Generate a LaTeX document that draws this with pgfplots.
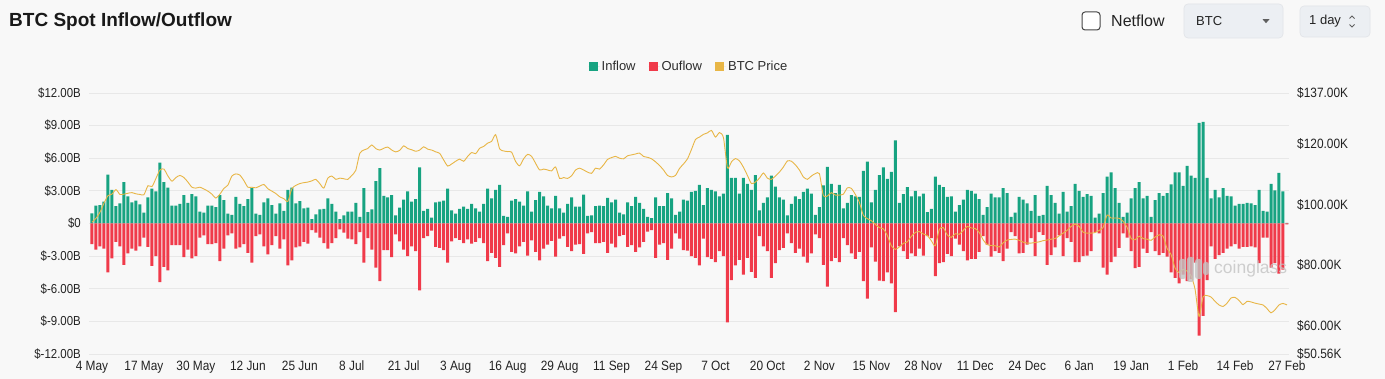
\documentclass[border=0pt]{standalone}
\usepackage{pgfplots}
\pgfplotsset{compat=1.18}
\usepackage{pgfplotstable}
\usepackage{fontspec}
\setmainfont{Liberation Sans}
\newfontfamily\tickfont[FakeStretch=0.88]{Liberation Sans}

\definecolor{bg}{RGB}{248,248,248}
\definecolor{ingreen}{RGB}{23,163,129}
\definecolor{outred}{RGB}{240,58,74}
\definecolor{btcgold}{RGB}{232,182,70}
\definecolor{gridc}{RGB}{232,232,232}
\definecolor{ticktext}{RGB}{35,35,35}
\definecolor{ctrlbg}{RGB}{236,239,243}
\definecolor{ctrlborder}{RGB}{225,228,232}
\definecolor{wm}{RGB}{195,195,195}
\definecolor{titlec}{RGB}{25,25,25}
\definecolor{boxc}{RGB}{70,70,70}
\definecolor{darktext}{RGB}{35,35,35}
\definecolor{arrowc}{RGB}{95,95,95}
\definecolor{legtext}{RGB}{45,45,45}

\pgfplotstableread{
d in out
0 0.92 -1.90
1 1.65 -2.40
2 1.70 -2.10
3 2.00 -2.30
4 4.50 -4.50
5 3.10 -3.20
6 1.60 -1.70
7 1.85 -2.10
8 3.80 -3.80
9 2.50 -2.75
10 1.95 -2.30
11 2.10 -2.50
12 1.75 -2.10
13 1.00 -1.30
14 2.40 -2.15
15 3.20 -3.90
16 2.95 -3.00
17 5.60 -5.40
18 3.80 -4.00
19 3.30 -4.30
20 1.65 -2.00
21 1.65 -2.00
22 1.80 -2.00
23 2.60 -3.10
24 1.90 -2.40
25 2.70 -3.20
26 2.50 -3.00
27 1.10 -1.30
28 1.00 -1.10
29 1.65 -1.90
30 1.65 -1.90
31 1.50 -1.80
32 2.60 -3.45
33 2.15 -2.30
34 0.90 -1.10
35 0.80 -0.90
36 2.45 -2.30
37 1.80 -2.20
38 1.60 -1.90
39 2.25 -2.70
40 3.25 -3.60
41 0.90 -1.15
42 0.80 -1.00
43 1.95 -2.10
44 2.30 -2.85
45 1.70 -2.00
46 0.90 -1.15
47 1.85 -2.30
48 1.15 -1.45
49 3.10 -3.85
50 3.30 -3.40
51 1.85 -2.20
52 2.05 -2.10
53 1.40 -1.70
54 1.45 -1.85
55 0.40 -0.60
56 0.85 -0.85
57 1.30 -1.30
58 1.35 -1.80
59 2.30 -2.30
60 1.80 -1.80
61 1.10 -1.35
62 0.40 -0.55
63 0.75 -0.85
64 1.10 -1.40
65 1.10 -1.45
66 1.90 -1.90
67 0.60 -0.80
68 3.25 -3.60
69 1.05 -1.35
70 1.30 -2.40
71 3.90 -4.05
72 5.10 -5.30
73 2.55 -2.45
74 2.40 -2.45
75 2.60 -3.10
76 0.75 -1.00
77 1.45 -1.65
78 2.20 -2.40
79 2.95 -3.00
80 2.00 -2.10
81 2.25 -2.55
82 5.15 -6.15
83 1.15 -1.35
84 1.35 -1.15
85 0.55 -0.65
86 1.95 -2.15
87 2.00 -2.25
88 2.10 -2.45
89 3.20 -3.60
90 1.20 -1.65
91 0.90 -1.35
92 1.35 -1.50
93 1.55 -1.80
94 1.35 -1.45
95 1.80 -1.85
96 1.40 -1.70
97 1.10 -1.35
98 1.80 -1.80
99 3.20 -3.45
100 2.30 -2.70
101 3.10 -3.15
102 3.55 -4.00
103 0.70 -2.00
104 0.60 -0.90
105 2.10 -2.60
106 2.25 -2.75
107 2.00 -2.10
108 1.65 -1.70
109 2.95 -2.95
110 1.10 -1.55
111 2.15 -2.60
112 2.90 -3.40
113 2.50 -2.30
114 1.65 -1.95
115 1.40 -1.60
116 2.55 -3.05
117 1.40 -1.40
118 1.00 -1.15
119 1.80 -2.15
120 2.40 -2.55
121 1.55 -1.95
122 1.55 -1.90
123 2.65 -2.80
124 0.70 -0.90
125 0.75 -0.80
126 1.60 -1.80
127 1.65 -1.80
128 1.60 -1.70
129 2.35 -2.70
130 1.95 -1.85
131 2.20 -2.20
132 1.00 -1.15
133 0.85 -1.05
134 1.95 -2.15
135 1.60 -2.00
136 2.45 -2.60
137 1.90 -2.20
138 1.35 -1.70
139 0.60 -0.75
140 0.50 -0.60
141 2.40 -3.15
142 1.60 -1.95
143 1.60 -1.80
144 2.80 -3.35
145 2.30 -2.30
146 0.80 -0.90
147 1.10 -1.40
148 2.20 -2.45
149 2.10 -2.50
150 2.90 -3.00
151 3.00 -3.15
152 3.55 -3.85
153 1.70 -1.40
154 3.25 -3.10
155 3.10 -3.25
156 2.95 -3.55
157 2.50 -2.55
158 2.75 -3.00
159 8.15 -9.10
160 4.20 -5.20
161 4.20 -3.85
162 2.75 -3.35
163 4.20 -4.70
164 3.65 -3.15
165 3.10 -4.45
166 4.45 -5.00
167 1.20 -1.15
168 1.90 -2.10
169 2.40 -2.55
170 4.40 -5.00
171 3.40 -3.65
172 2.40 -2.45
173 2.20 -2.25
174 0.75 -0.90
175 1.80 -1.80
176 2.50 -2.70
177 2.25 -2.30
178 2.90 -3.05
179 3.20 -3.60
180 2.75 -2.75
181 0.80 -1.00
182 1.50 -1.35
183 3.50 -3.80
184 5.20 -5.80
185 3.65 -3.45
186 2.80 -3.15
187 3.55 -3.55
188 1.40 -1.35
189 1.90 -2.00
190 2.60 -2.75
191 2.50 -3.25
192 2.45 -2.60
193 4.85 -5.30
194 5.70 -6.90
195 1.95 -2.20
196 3.10 -3.50
197 4.45 -5.25
198 5.15 -5.30
199 4.10 -4.50
200 4.75 -5.50
201 7.65 -8.15
202 1.90 -2.10
203 2.70 -2.55
204 3.35 -3.25
205 2.50 -2.75
206 3.00 -3.00
207 2.50 -2.30
208 2.75 -2.95
209 1.05 -1.15
210 1.35 -1.35
211 4.30 -4.85
212 3.55 -3.65
213 3.35 -3.55
214 2.45 -2.80
215 2.50 -3.00
216 1.10 -1.40
217 1.70 -1.95
218 2.20 -2.55
219 3.10 -3.40
220 3.00 -3.25
221 2.75 -3.25
222 2.25 -2.60
223 0.80 -1.15
224 1.50 -1.95
225 2.75 -3.05
226 2.40 -2.55
227 2.40 -2.70
228 3.25 -3.45
229 2.80 -2.30
230 0.60 -0.80
231 1.00 -1.15
232 2.45 -2.75
233 2.20 -2.70
234 1.85 -1.95
235 1.15 -1.35
236 2.60 -3.00
237 0.70 -0.80
238 0.80 -1.05
239 3.45 -3.80
240 2.60 -2.90
241 1.90 -2.20
242 0.90 -1.10
243 2.90 -3.00
244 1.10 -1.35
245 1.60 -1.70
246 3.65 -3.55
247 3.00 -3.55
248 2.45 -3.00
249 2.70 -2.95
250 2.55 -2.55
251 0.55 -0.80
252 0.90 -0.90
253 2.80 -4.05
254 4.30 -4.70
255 4.70 -3.55
256 3.25 -3.05
257 1.90 -2.25
258 0.60 -0.90
259 1.00 -1.30
260 2.30 -2.55
261 3.25 -4.10
262 3.80 -4.00
263 2.30 -2.30
264 2.55 -2.70
265 0.60 -0.80
266 2.15 -2.55
267 2.80 -2.90
268 2.55 -2.70
269 2.80 -3.05
270 3.60 -4.50
271 4.70 -5.00
272 4.70 -5.50
273 3.45 -4.70
274 5.30 -5.30
275 4.40 -5.10
276 4.20 -3.60
277 9.25 -10.30
278 9.35 -8.50
279 4.20 -5.20
280 2.30 -2.10
281 3.10 -3.25
282 2.40 -2.90
283 3.25 -2.70
284 2.55 -2.30
285 2.50 -2.10
286 1.65 -1.90
287 1.80 -2.30
288 1.80 -2.15
289 1.90 -2.15
290 1.85 -2.10
291 1.70 -2.20
292 3.10 -3.65
293 1.15 -1.30
294 1.10 -1.30
295 3.65 -4.05
296 3.05 -3.65
297 4.65 -4.60
298 2.95 -4.25
299 0.05 -0.08
}\flowdata

\pgfplotstableread{
d p
0 94.2
1 95.5
2 97.5
3 100.5
4 103.0
5 103.5
6 105.0
7 103.4
8 103.5
9 103.8
10 104.0
11 103.6
12 103.4
13 103.3
14 106.3
15 106.0
16 108.7
17 111.5
18 111.8
19 109.5
20 107.8
21 109.0
22 109.7
23 109.0
24 107.5
25 105.8
26 105.5
27 105.8
28 105.2
29 104.5
30 103.5
31 102.2
32 103.5
33 105.4
34 106.5
35 109.5
36 110.2
37 109.8
38 108.0
39 105.8
40 105.8
41 105.6
42 106.2
43 106.7
44 105.3
45 104.5
46 103.7
47 102.6
48 102.0
49 101.1
50 105.3
51 106.4
52 107.0
53 107.3
54 107.5
55 107.9
56 108.4
57 107.0
58 105.5
59 108.8
60 109.5
61 108.4
62 108.8
63 108.6
64 108.4
65 109.7
66 111.4
67 117.0
68 118.1
69 118.6
70 119.8
71 118.6
72 118.1
73 118.7
74 119.1
75 118.1
76 117.5
77 118.0
78 119.5
79 118.6
80 118.2
81 117.7
82 118.1
83 119.2
84 118.4
85 118.1
86 117.5
87 117.0
88 114.8
89 112.8
90 113.5
91 114.4
92 115.1
93 114.4
94 116.0
95 117.3
96 116.9
97 118.7
98 119.3
99 120.4
100 121.0
101 123.2
102 118.5
103 117.8
104 117.6
105 117.4
106 114.3
107 112.9
108 115.2
109 116.7
110 116.0
111 113.7
112 111.5
113 111.8
114 111.5
115 111.2
116 112.5
117 108.7
118 109.0
119 108.7
120 109.6
121 111.5
122 112.1
123 111.5
124 110.8
125 110.4
126 112.1
127 111.8
128 113.2
129 115.0
130 115.6
131 116.0
132 115.4
133 115.2
134 116.2
135 116.5
136 116.8
137 117.1
138 116.0
139 115.7
140 115.2
141 114.2
142 113.0
143 111.5
144 109.7
145 109.2
146 109.7
147 112.0
148 113.5
149 115.2
150 118.3
151 121.6
152 122.4
153 123.3
154 123.8
155 124.6
156 122.4
157 123.9
158 122.2
159 112.2
160 114.2
161 115.3
162 114.5
163 112.4
164 109.7
165 107.0
166 107.5
167 108.8
168 110.5
169 108.8
170 108.4
171 109.5
172 110.8
173 112.5
174 114.5
175 114.4
176 113.2
177 111.5
178 109.2
179 108.4
180 109.5
181 110.3
182 110.3
183 103.0
184 102.9
185 104.0
186 103.2
187 103.2
188 103.5
189 105.6
190 105.4
191 103.4
192 100.8
193 96.5
194 95.4
195 94.7
196 93.5
197 92.4
198 92.0
199 89.8
200 86.4
201 85.2
202 86.0
203 87.2
204 87.7
205 89.5
206 90.8
207 91.1
208 90.3
209 89.8
210 88.1
211 86.4
212 91.8
213 92.4
214 90.0
215 89.2
216 90.4
217 90.2
218 91.5
219 92.8
220 92.3
221 92.1
222 90.8
223 88.3
224 86.8
225 86.5
226 86.4
227 86.0
228 87.4
229 88.3
230 88.5
231 88.6
232 88.2
233 87.6
234 87.3
235 87.3
236 87.5
237 87.7
238 88.1
239 88.3
240 88.6
241 88.8
242 89.7
243 90.6
244 91.5
245 92.8
246 93.6
247 92.8
248 90.9
249 90.6
250 90.6
251 90.8
252 91.5
253 92.5
254 96.6
255 95.6
256 95.6
257 95.5
258 94.5
259 92.5
260 88.8
261 88.4
262 89.6
263 88.8
264 88.6
265 88.2
266 89.3
267 90.0
268 89.6
269 85.5
270 83.5
271 79.0
272 77.5
273 78.6
274 78.0
275 76.5
276 72.0
277 63.0
278 69.5
279 69.9
280 69.4
281 68.0
282 66.8
283 66.3
284 67.4
285 69.1
286 69.3
287 68.3
288 66.9
289 68.0
290 67.8
291 67.4
292 67.1
293 66.8
294 65.6
295 64.2
296 65.2
297 66.8
298 67.3
299 66.8
}\pricedata

\begin{document}
\begin{tikzpicture}
\path[use as bounding box, fill=bg] (0pt,0pt) rectangle (1385pt,379pt);

% header
\node[anchor=west, inner sep=0pt, text=titlec] at (9pt,357pt) {\bfseries\fontsize{19}{21}\selectfont BTC Spot Inflow/Outflow};
\draw[rounded corners=3pt, draw=boxc, line width=1pt, fill=white] (1082pt,349pt) rectangle (1100pt,367pt);
\node[anchor=west, inner sep=0pt, text=darktext] at (1111pt,358pt) {\fontsize{16}{18}\selectfont Netflow};
\filldraw[rounded corners=4pt, fill=ctrlbg, draw=ctrlborder, line width=0.6pt] (1184pt,341pt) rectangle (1283pt,375pt);
\node[anchor=west, inner sep=0pt, text=darktext] at (1196pt,358pt) {\fontsize{13}{15}\selectfont BTC};
\fill[arrowc] (1262.5pt,359.8pt) -- (1269.5pt,359.8pt) -- (1266pt,355.8pt) -- cycle;
\filldraw[rounded corners=4pt, fill=ctrlbg, draw=ctrlborder, line width=0.6pt] (1300pt,342pt) rectangle (1370pt,373pt);
\node[anchor=west, inner sep=0pt, text=darktext] at (1309pt,357.5pt) {\fontsize{13}{15}\selectfont 1 day};
\draw[arrowc, line width=0.8pt] (1349.5pt,360.5pt) -- (1352pt,363pt) -- (1354.5pt,360.5pt);
\draw[arrowc, line width=0.8pt] (1349.5pt,354.5pt) -- (1352pt,352pt) -- (1354.5pt,354.5pt);

\begin{axis}[
  at={(89pt,25pt)}, anchor=south west,
  scale only axis, width=1200pt, height=261pt,
  xmin=-0.75, xmax=299.5, ymin=-12, ymax=12,
  axis line style={draw=none}, tick style={draw=none},
  ytick={-12,-9,-6,-3,0,3,6,9,12},
  yticklabels={\$-12.00B,\$-9.00B,\$-6.00B,\$-3.00B,\$0,\$3.00B,\$6.00B,\$9.00B,\$12.00B},
  ymajorgrids, grid style={gridc, line width=0.8pt},
  xtick={0,13,...,299},
  xticklabels={4 May,17 May,30 May,12 Jun,25 Jun,8 Jul,21 Jul,3 Aug,16 Aug,29 Aug,11 Sep,24 Sep,7 Oct,20 Oct,2 Nov,15 Nov,28 Nov,11 Dec,24 Dec,6 Jan,19 Jan,1 Feb,14 Feb,27 Feb},
  xticklabel style={font=\tickfont\fontsize{13.5}{15}\selectfont, text=ticktext, inner sep=0pt, anchor=north, yshift=-7pt},
  yticklabel style={font=\tickfont\fontsize{13}{15}\selectfont, text=ticktext, inner sep=0pt, anchor=east, xshift=-8pt},
]
\addplot[ybar, bar width=3pt, bar shift=0pt, fill=ingreen, draw=none] table[x=d, y=in] {\flowdata};
\addplot[ybar, bar width=3pt, bar shift=0pt, fill=outred, draw=none] table[x=d, y=out] {\flowdata};
\end{axis}

\begin{axis}[
  at={(89pt,25pt)}, anchor=south west,
  scale only axis, width=1200pt, height=261pt,
  xmin=-0.75, xmax=299.5, ymin=50.56, ymax=137,
  axis line style={draw=none}, tick style={draw=none},
  xtick=\empty, yticklabel pos=right,
  ytick={50.56,60,80,100,120,137},
  yticklabels={\$50.56K,\$60.00K,\$80.00K,\$100.00K,\$120.00K,\$137.00K},
  yticklabel style={font=\tickfont\fontsize{13.5}{15}\selectfont, text=ticktext, inner sep=0pt, anchor=west, xshift=8pt},
  legend style={at={(0.5,1)}, anchor=center, yshift=26pt, draw=none, fill=none,
    legend columns=3, font=\fontsize{13}{15}\selectfont, text=legtext,
    /tikz/every even column/.append style={column sep=11pt}},
  legend image code/.code={\path[draw=none,#1] (0pt,-4.5pt) rectangle (9pt,4.5pt); \path[draw=none] (0pt,0pt) -- (11pt,0pt);},
]
\addlegendimage{fill=ingreen}
\addlegendentry{Inflow}
\addlegendimage{fill=outred}
\addlegendentry{Ouflow}
\addlegendimage{fill=btcgold}
\addlegendentry{BTC Price}
\addplot[btcgold, line width=0.9pt, smooth, tension=0.4, forget plot] table[x=d, y=p] {\pricedata};
\end{axis}

% watermark
\begin{scope}[opacity=0.8]
\fill[wm, rounded corners=2.5pt] (1179pt,100pt) rectangle (1186pt,120pt);
\fill[wm, rounded corners=2.5pt] (1187pt,97pt) rectangle (1194pt,122pt);
\fill[wm, rounded corners=2.5pt] (1195pt,100pt) rectangle (1202pt,120pt);
\fill[wm, rounded corners=2.5pt] (1203pt,104pt) rectangle (1209pt,117pt);
\node[anchor=west, inner sep=0pt, text=wm] at (1214pt,110pt) {\fontsize{17.5}{19}\selectfont coinglass};
\end{scope}
\end{tikzpicture}
\end{document}
